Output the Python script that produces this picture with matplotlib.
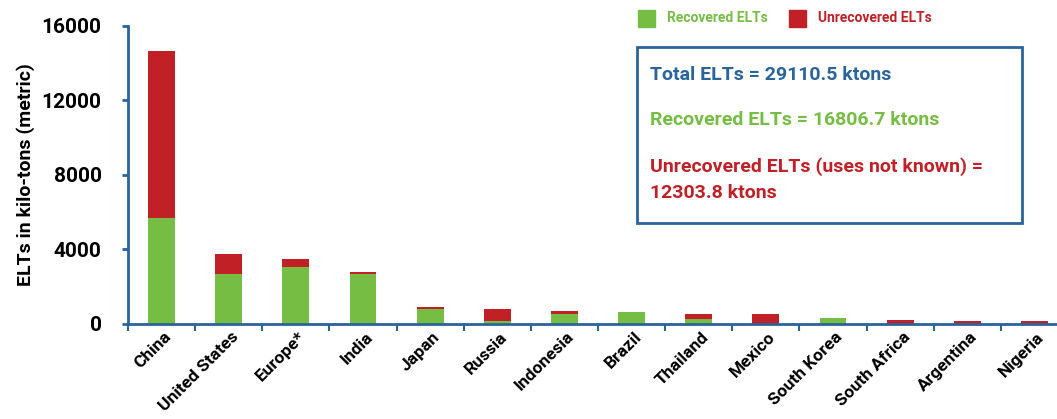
import matplotlib.pyplot as plt
import matplotlib.transforms as mtransforms
import numpy as np

plt.rcParams['font.family'] = ['Roboto', 'DejaVu Sans']

countries = ["China", "United States", "Europe*", "India", "Japan", "Russia", "Indonesia",
             "Brazil", "Thailand", "Mexico", "South Korea", "South Africa", "Argentina", "Nigeria"]
recovered = [5660, 2650, 3040, 2650, 770, 120, 500, 620, 240, 0, 300, 0, 0, 0]
unrecovered = [8980, 1080, 420, 110, 110, 650, 160, 0, 280, 520, 0, 210, 150, 150]

GREEN = "#76BD43"
RED = "#C22027"
BLUE = "#2A6499"

fig = plt.figure(figsize=(10.57, 4.19), dpi=100)
ax = fig.add_axes([128 / 1057, 95.5 / 419, 940 / 1057, 297.6 / 419])

x = np.arange(len(countries))
rec = np.array(recovered)
unrec = np.array(unrecovered)
ax.bar(x, rec, width=0.4, color=GREEN)
ax.bar(x, unrec, width=0.4, bottom=rec, color=RED)

ax.set_xlim(-0.5, len(countries) - 0.5)
ax.set_ylim(0, 16000)
ax.set_yticks([0, 4000, 8000, 12000, 16000])
ax.tick_params(axis="y", colors=BLUE, length=4, width=2, labelcolor="black",
               labelsize=15, pad=15)
for lab in ax.get_yticklabels():
    lab.set_fontweight("bold")

ax.set_xticks(x)
ax.set_xticklabels(countries, rotation=45, ha="right", va="top",
                   rotation_mode="anchor", fontsize=12.5, fontweight="bold")
ax.set_xticks(np.arange(-0.5, len(countries), 1), minor=True)
ax.tick_params(axis="x", which="major", length=0, pad=4)
ax.tick_params(axis="x", which="minor", colors=BLUE, length=5, width=1.5)
offset = mtransforms.ScaledTranslation(2 / 100, 0, fig.dpi_scale_trans)
for lab in ax.get_xticklabels():
    lab.set_transform(lab.get_transform() + offset)

for s in ["top", "right"]:
    ax.spines[s].set_visible(False)
ax.spines["left"].set_color(BLUE)
ax.spines["bottom"].set_color(BLUE)
ax.spines["left"].set_linewidth(2)
ax.spines["bottom"].set_linewidth(2)

ax.set_ylabel("ELTs in kilo-tons (metric)", fontsize=14, fontweight="bold", labelpad=5)

# legend
fig.patches.append(plt.Rectangle((638 / 1057, 1 - 27 / 419), 17 / 1057, 17 / 419,
                                 transform=fig.transFigure, color=GREEN))
fig.text(667 / 1057, 1 - 18 / 419, "Recovered ELTs", color=GREEN, fontsize=10,
         fontweight="bold", va="center")
fig.patches.append(plt.Rectangle((789 / 1057, 1 - 27 / 419), 17 / 1057, 17 / 419,
                                 transform=fig.transFigure, color=RED))
fig.text(818 / 1057, 1 - 18 / 419, "Unrecovered ELTs", color=RED, fontsize=10,
         fontweight="bold", va="center")

# summary box
fig.patches.append(plt.Rectangle((637 / 1057, 1 - 223 / 419), 385 / 1057, 176 / 419,
                                 transform=fig.transFigure, fill=False,
                                 edgecolor=BLUE, linewidth=2))
fig.text(650 / 1057, 1 - 75 / 419, "Total ELTs = 29110.5 ktons", color=BLUE,
         fontsize=14, fontweight="bold", va="center")
fig.text(650 / 1057, 1 - 120 / 419, "Recovered ELTs = 16806.7 ktons", color=GREEN,
         fontsize=14, fontweight="bold", va="center")
fig.text(650 / 1057, 1 - 167 / 419, "Unrecovered ELTs (uses not known) =", color=RED,
         fontsize=14, fontweight="bold", va="center")
fig.text(650 / 1057, 1 - 193 / 419, "12303.8 ktons", color=RED,
         fontsize=14, fontweight="bold", va="center")

fig.savefig("out.png", dpi=100)
